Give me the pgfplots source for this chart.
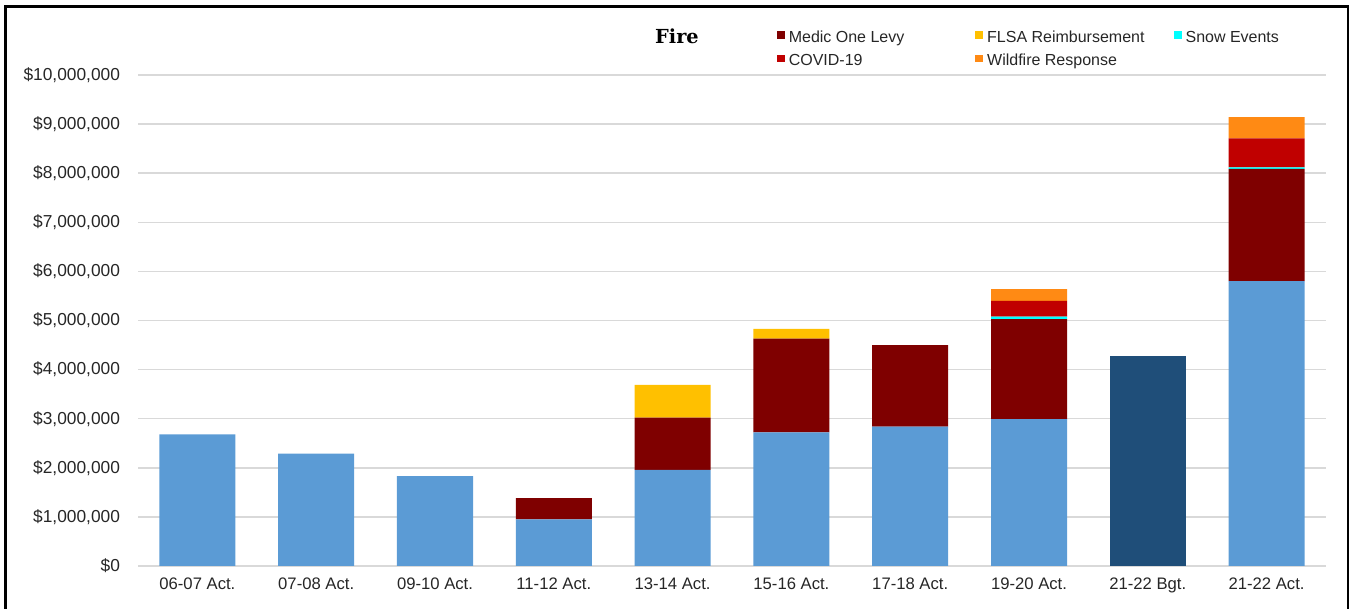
\documentclass[border=0pt]{standalone}
\usepackage{fontspec}
\setmainfont{Liberation Sans}
\newfontfamily\titlefont{DejaVu Serif}
\usepackage{pgfplots}
\pgfplotsset{compat=1.18}
\definecolor{basec}{HTML}{5B9BD5}
\definecolor{bgtc}{HTML}{1F4E79}
\definecolor{medicc}{HTML}{7F0000}
\definecolor{flsac}{HTML}{FFC000}
\definecolor{snowc}{HTML}{00FFFF}
\definecolor{covidc}{HTML}{C00000}
\definecolor{wildc}{HTML}{FF8A14}
\definecolor{gridc}{HTML}{D9D9D9}
\pgfplotsset{myleg/.style={legend image code/.code={\path[fill=none,draw=none] (0pt,-2.5pt) rectangle (5.8pt,8.5pt); \fill[##1] (0pt,-0.3pt) rectangle (5.8pt,5.5pt);}}}
\begin{document}
\begin{tikzpicture}
\begin{axis}[
  at={(0,0)}, anchor=south west,
  scale only axis, width=891pt, height=368.25pt,
  clip=false,
  ybar stacked, bar width=0.64,
  xmin=-0.5, xmax=9.5, ymin=0, ymax=10000000,
  axis line style={draw=none}, tick style={draw=none},
  ymajorgrids, grid style={color=gridc, line width=1.1pt},
  scaled y ticks=false,
  /pgf/number format/assume math mode=true,
  xtick={0,1,2,3,4,5,6,7,8,9},
  xticklabels={06-07 Act.,07-08 Act.,09-10 Act.,11-12 Act.,13-14 Act.,15-16 Act.,17-18 Act.,19-20 Act.,21-22 Bgt.,21-22 Act.},
  ytick={0,1000000,2000000,3000000,4000000,5000000,6000000,7000000,8000000,9000000,10000000},
  yticklabels={{\$0},{\$1,000,000},{\$2,000,000},{\$3,000,000},{\$4,000,000},{\$5,000,000},{\$6,000,000},{\$7,000,000},{\$8,000,000},{\$9,000,000},{\$10,000,000}},
  xticklabel style={font=\fontsize{12.5pt}{14pt}\selectfont, text=black!85, yshift=-5.5pt},
  yticklabel style={font=\fontsize{13pt}{14pt}\selectfont, text=black!85, xshift=-10pt},
  legend columns=3,
  legend cell align=left,
  legend style={draw=none, fill=none, inner sep=0pt, outer sep=0pt,
    at={(axis description cs:0.5379,1.0975)}, anchor=north west,
    font=\fontsize{12pt}{14pt}\selectfont, text=black!85,
    nodes={inner xsep=0pt, inner ysep=0pt, text height=8.5pt, text depth=2.5pt},
    row sep=3.65pt,
    /tikz/every odd column/.style={column sep=3pt},
    /tikz/every even column/.style={column sep=0pt}},
]
\addplot[fill=basec, draw=none, forget plot] coordinates {(0,2680000) (1,2290000) (2,1830000) (3,950000) (4,1960000) (5,2720000) (6,2840000) (7,2990000) (8,0) (9,5800000)};
\addplot[fill=bgtc, draw=none, forget plot] coordinates {(0,0) (1,0) (2,0) (3,0) (4,0) (5,0) (6,0) (7,0) (8,4270000) (9,0)};
\addplot[fill=medicc, draw=none, myleg] coordinates {(0,0) (1,0) (2,0) (3,430000) (4,1060000) (5,1910000) (6,1660000) (7,2040000) (8,0) (9,2290000)};
\addlegendentry{\makebox[140pt][l]{Medic One Levy}}
\addplot[fill=flsac, draw=none, myleg] coordinates {(0,0) (1,0) (2,0) (3,0) (4,670000) (5,200000) (6,0) (7,0) (8,0) (9,0)};
\addlegendentry{\makebox[140pt][l]{FLSA Reimbursement}}
\addplot[fill=snowc, draw=none, myleg] coordinates {(0,0) (1,0) (2,0) (3,0) (4,0) (5,0) (6,0) (7,50000) (8,0) (9,30000)};
\addlegendentry{Snow Events}
\addplot[fill=covidc, draw=none, myleg] coordinates {(0,0) (1,0) (2,0) (3,0) (4,0) (5,0) (6,0) (7,320000) (8,0) (9,590000)};
\addlegendentry{\makebox[140pt][l]{COVID-19}}
\addplot[fill=wildc, draw=none, myleg] coordinates {(0,0) (1,0) (2,0) (3,0) (4,0) (5,0) (6,0) (7,240000) (8,0) (9,430000)};
\addlegendentry{\makebox[140pt][l]{Wildfire Response}}
\node[anchor=base, font=\titlefont\bfseries\fontsize{14.5pt}{16pt}\selectfont] at (axis description cs:0.4537,1.0642) {Fire};
\end{axis}
\draw[line width=2pt, black] (-99.5pt,-40pt) -- (-99.5pt,419.8pt) -- (907.5pt,419.8pt) -- (907.5pt,-40pt);
\pgfresetboundingbox
\useasboundingbox (-103.5pt,-32.25pt) rectangle (909.75pt,424.5pt);
\end{tikzpicture}
\end{document}
